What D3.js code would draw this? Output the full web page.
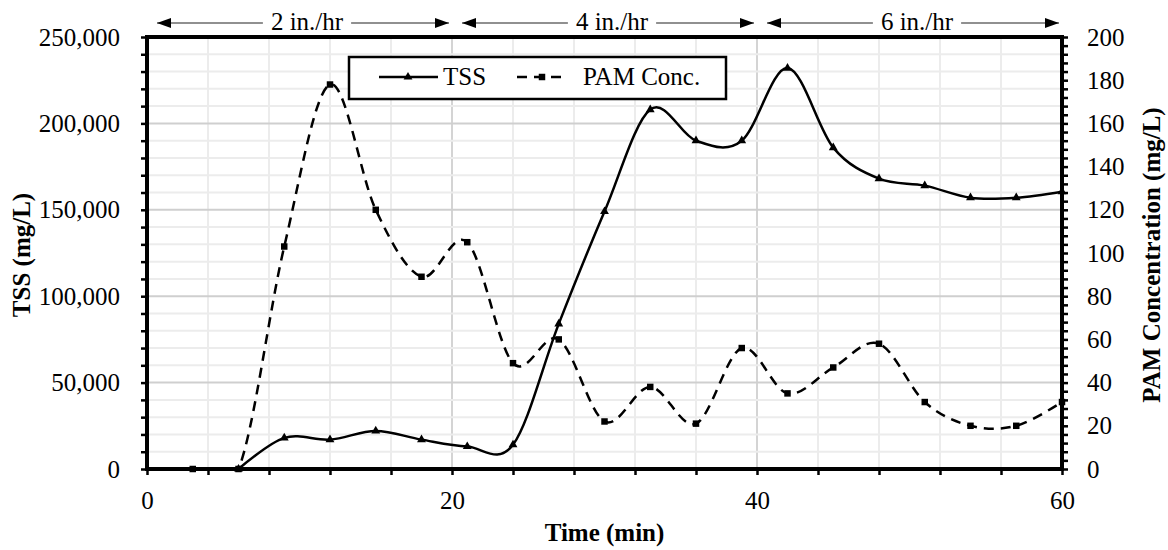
<!DOCTYPE html>
<html>
<head>
<meta charset="utf-8">
<script src="https://cdn.jsdelivr.net/npm/d3@7"></script>
<style>
    body { margin: 0; background: #fff; }
    svg text { font-family: "Liberation Serif", "Times New Roman", serif; fill: #000; }
</style>
</head>
<body>
<svg id="chart" width="1168" height="550"></svg>
<script>
// sample times (min)
var pamTimes = [3, 6, 9, 12, 15, 18, 21, 24, 27, 30, 33, 36, 39, 42, 45, 48, 51, 54, 57, 60];
var tssTimes = [6, 9, 12, 15, 18, 21, 24, 27, 30, 33, 36, 39, 42, 45, 48, 51, 54, 57, 60];

// TSS (mg/L), left axis
var tssValues = [0, 18000, 17000, 22000, 17000, 13000, 14000, 84000, 149000, 208000,
                 190000, 190000, 232000, 186000, 168000, 164000, 157000, 157000, 160500];

// PAM concentration (mg/L), right axis
var pamValues = [0, 0, 103, 178, 120, 89, 105, 49, 60, 22, 38, 21, 56, 35, 47, 58, 31, 20, 20, 31];

// rainfall intensity bands along the top
var rateLabels = ["2 in./hr", "4 in./hr", "6 in./hr"];
var rateStart = [0, 20, 40];
var rateEnd = [20, 40, 60];

// tick labels
var xTickLabels = [0, 20, 40, 60];
var leftTickLabels = [0, 50000, 100000, 150000, 200000, 250000];
var rightTickLabels = [0, 20, 40, 60, 80, 100, 120, 140, 160, 180, 200];

var xMinorStep = 4, leftMinorStep = 10000, rightMinorStep = 4;

var svg = d3.select("#chart");
// note: "top" is reserved on window, so use plot* names
var plotLeft = 147, plotRight = 1062, plotTop = 37, plotBottom = 469;
var fontSize = 25;

var x = d3.scaleLinear().domain([0, 60]).range([plotLeft, plotRight]);
var yLeft = d3.scaleLinear().domain([0, 250000]).range([plotBottom, plotTop]);
var yRight = d3.scaleLinear().domain([0, 200]).range([plotBottom, plotTop]);

// gridlines
var grid = svg.append("g");
d3.range(xMinorStep, 60, xMinorStep).forEach(function (t) {
    grid.append("line")
        .attr("x1", x(t)).attr("x2", x(t))
        .attr("y1", plotTop).attr("y2", plotBottom)
        .attr("stroke", t % 20 === 0 ? "#d4d4d4" : "#ececec")
        .attr("stroke-width", 2);
});
d3.range(leftMinorStep, 250000, leftMinorStep).forEach(function (v) {
    grid.append("line")
        .attr("x1", plotLeft).attr("x2", plotRight)
        .attr("y1", yLeft(v)).attr("y2", yLeft(v))
        .attr("stroke", v % 50000 === 0 ? "#cfcfcf" : "#ececec")
        .attr("stroke-width", 2);
});

// axes
function styleAxis(g) {
    g.select(".domain").remove();
    g.selectAll("line").attr("stroke", "#000").attr("stroke-width", 2.5);
    g.selectAll("text").style("font-size", fontSize + "px").attr("fill", "#000");
}

svg.append("g")
    .attr("transform", "translate(0," + plotBottom + ")")
    .call(d3.axisBottom(x).tickValues(d3.range(0, 61, xMinorStep)).tickSize(6)
        .tickPadding(16)
        .tickFormat(function (d) { return xTickLabels.indexOf(d) >= 0 ? d : ""; }))
    .call(styleAxis);

svg.append("g")
    .attr("transform", "translate(" + plotLeft + ",0)")
    .call(d3.axisLeft(yLeft).tickValues(d3.range(0, 250001, leftMinorStep)).tickSize(6)
        .tickPadding(21)
        .tickFormat(function (d) { return leftTickLabels.indexOf(d) >= 0 ? d3.format(",")(d) : ""; }))
    .call(styleAxis);

svg.append("g")
    .attr("transform", "translate(" + plotRight + ",0)")
    .call(d3.axisRight(yRight).tickValues(d3.range(0, 201, rightMinorStep)).tickSize(6)
        .tickPadding(19)
        .tickFormat(function (d) { return rightTickLabels.indexOf(d) >= 0 ? d : ""; }))
    .call(styleAxis);

// frame
svg.append("rect")
    .attr("x", plotLeft).attr("y", plotTop)
    .attr("width", plotRight - plotLeft).attr("height", plotBottom - plotTop)
    .attr("fill", "none").attr("stroke", "#000").attr("stroke-width", 4);

// series
svg.append("clipPath").attr("id", "plotClip")
    .append("rect").attr("x", plotLeft).attr("y", plotTop)
    .attr("width", plotRight - plotLeft).attr("height", plotBottom - plotTop);

var tssData = tssTimes.map(function (t, i) { return { t: t, v: tssValues[i] }; });
var pamData = pamTimes.map(function (t, i) { return { t: t, v: pamValues[i] }; });

var tssLine = d3.line().curve(d3.curveCardinal.tension(0))
    .x(function (d) { return x(d.t); })
    .y(function (d) { return yLeft(d.v); });
var pamLine = d3.line().curve(d3.curveCardinal.tension(0))
    .x(function (d) { return x(d.t); })
    .y(function (d) { return yRight(d.v); });

svg.append("path").datum(pamData)
    .attr("clip-path", "url(#plotClip)")
    .attr("d", pamLine)
    .attr("fill", "none").attr("stroke", "#000")
    .attr("stroke-width", 2.5).attr("stroke-dasharray", "10,7");

svg.append("path").datum(tssData)
    .attr("clip-path", "url(#plotClip)")
    .attr("d", tssLine)
    .attr("fill", "none").attr("stroke", "#000").attr("stroke-width", 2.5);

var square = d3.symbol().type(d3.symbolSquare).size(42);
var triangle = d3.symbol().type(d3.symbolTriangle).size(34);

svg.append("g").selectAll("path").data(pamData).enter().append("path")
    .attr("d", square)
    .attr("transform", function (d) { return "translate(" + x(d.t) + "," + yRight(d.v) + ")"; })
    .attr("fill", "#000");

svg.append("g").selectAll("path").data(tssData).enter().append("path")
    .attr("d", triangle)
    .attr("transform", function (d) { return "translate(" + x(d.t) + "," + yLeft(d.v) + ")"; })
    .attr("fill", "#000");

// axis titles
svg.append("text")
    .attr("transform", "translate(30,255) rotate(-90)")
    .attr("text-anchor", "middle")
    .style("font-size", fontSize + "px").style("font-weight", "bold")
    .text("TSS (mg/L)");

svg.append("text")
    .attr("transform", "translate(1160,255) rotate(-90)")
    .attr("text-anchor", "middle")
    .style("font-size", fontSize + "px").style("font-weight", "bold")
    .text("PAM Concentration (mg/L)");

svg.append("text")
    .attr("x", x(30)).attr("y", 541)
    .attr("text-anchor", "middle")
    .style("font-size", fontSize + "px").style("font-weight", "bold")
    .text("Time (min)");

// rainfall arrows
var defs = svg.append("defs");
defs.append("marker").attr("id", "arrowEnd")
    .attr("viewBox", "0 0 14 10").attr("refX", 14).attr("refY", 5)
    .attr("markerWidth", 14).attr("markerHeight", 10)
    .attr("markerUnits", "userSpaceOnUse").attr("orient", "auto")
    .append("path").attr("d", "M0,0L14,5L0,10Z").attr("fill", "#000");
defs.append("marker").attr("id", "arrowStart")
    .attr("viewBox", "0 0 14 10").attr("refX", 0).attr("refY", 5)
    .attr("markerWidth", 14).attr("markerHeight", 10)
    .attr("markerUnits", "userSpaceOnUse").attr("orient", "auto")
    .append("path").attr("d", "M14,0L0,5L14,10Z").attr("fill", "#000");

var arrowY = 23;
rateLabels.forEach(function (label, i) {
    var x1 = x(rateStart[i]) + 10, x2 = x(rateEnd[i]) - 3;
    var mid = (x1 + x2) / 2 + 4;
    var txt = svg.append("text")
        .attr("x", mid).attr("y", 30)
        .attr("text-anchor", "middle")
        .style("font-size", fontSize + "px")
        .text(label);
    var w = txt.node().getComputedTextLength();
    svg.append("line")
        .attr("x1", x1).attr("x2", mid - w / 2 - 8)
        .attr("y1", arrowY).attr("y2", arrowY)
        .attr("stroke", "#222").attr("stroke-width", 1.2)
        .attr("marker-start", "url(#arrowStart)");
    svg.append("line")
        .attr("x1", mid + w / 2 + 8).attr("x2", x2)
        .attr("y1", arrowY).attr("y2", arrowY)
        .attr("stroke", "#222").attr("stroke-width", 1.2)
        .attr("marker-end", "url(#arrowEnd)");
});

// legend
var legend = svg.append("g");
legend.append("rect")
    .attr("x", 349).attr("y", 57).attr("width", 377).attr("height", 42)
    .attr("fill", "#fff").attr("stroke", "#000").attr("stroke-width", 2.5);

legend.append("line")
    .attr("x1", 379).attr("x2", 438).attr("y1", 77).attr("y2", 77)
    .attr("stroke", "#000").attr("stroke-width", 2.5);
legend.append("path").attr("d", triangle).attr("transform", "translate(408,77)").attr("fill", "#000");
legend.append("text").attr("x", 443).attr("y", 85)
    .style("font-size", fontSize + "px").text("TSS");

legend.append("line")
    .attr("x1", 517).attr("x2", 567).attr("y1", 77).attr("y2", 77)
    .attr("stroke", "#000").attr("stroke-width", 2.5).attr("stroke-dasharray", "10,7");
legend.append("path").attr("d", square).attr("transform", "translate(542,77)").attr("fill", "#000");
legend.append("text").attr("x", 583).attr("y", 85)
    .style("font-size", fontSize + "px").text("PAM Conc.");
</script>
</body>
</html>
